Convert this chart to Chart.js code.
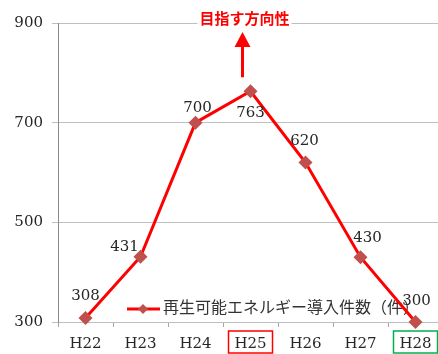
<!DOCTYPE html>
<html lang="ja">
<head>
<meta charset="utf-8">
<script src="https://cdn.jsdelivr.net/npm/chart.js@4"></script>
<style>
  html, body { margin: 0; padding: 0; background: #fff; overflow: hidden; }
  #wrap { position: relative; width: 450px; height: 354px; }
</style>
</head>
<body>
<div id="wrap"><canvas id="renewChart"></canvas></div>
<script>
// 年度と導入件数
const years = ['H22', 'H23', 'H24', 'H25', 'H26', 'H27', 'H28'];
const installs = [308, 431, 700, 763, 620, 430, 300];
const yTicks = [300, 500, 700, 900];
const seriesName = '再生可能エネルギー導入件数（件）';
const goalText = '目指す方向性';
const redBoxYear = 'H25';
const greenBoxYear = 'H28';

const SERIF = '"DejaVu Serif", "Liberation Serif", serif';
const JP = '"Noto Sans CJK JP", sans-serif';

// 値ラベルの位置ずらし (点からのずれ)
const labelShift = [[0, -22], [-16, -10], [2, -15], [0, 22], [-1, -21], [7, -19], [1, -21]];

const valueLabels = {
    id: 'valueLabels',
    afterDatasetsDraw(chart) {
        const ctx = chart.ctx;
        const pts = chart.getDatasetMeta(0).data;
        ctx.save();
        ctx.font = '15px ' + SERIF;
        ctx.fillStyle = '#262626';
        ctx.textAlign = 'center';
        ctx.textBaseline = 'middle';
        pts.forEach((p, i) => {
            const s = labelShift[i] || [0, -20];
            ctx.fillText(String(installs[i]), p.x + s[0], p.y + s[1]);
        });
        ctx.restore();
    }
};

// グラフ内の凡例 (線の下に描く)
const innerLegend = {
    id: 'innerLegend',
    beforeDatasetsDraw(chart) {
        const ctx = chart.ctx;
        const a = chart.chartArea;
        const y = a.bottom - 13;
        const x0 = a.left + 69;
        ctx.save();
        ctx.strokeStyle = '#ff0000';
        ctx.lineWidth = 3;
        ctx.beginPath();
        ctx.moveTo(x0, y);
        ctx.lineTo(x0 + 33, y);
        ctx.stroke();
        ctx.fillStyle = '#c0504d';
        ctx.beginPath();
        ctx.moveTo(x0 + 16, y - 5);
        ctx.lineTo(x0 + 21, y);
        ctx.lineTo(x0 + 16, y + 5);
        ctx.lineTo(x0 + 11, y);
        ctx.closePath();
        ctx.fill();
        ctx.font = '16px ' + JP;
        ctx.fillStyle = '#333';
        ctx.textAlign = 'left';
        ctx.textBaseline = 'middle';
        ctx.fillText(seriesName, x0 + 36, y - 2);
        ctx.restore();
    }
};

// 目指す方向性の矢印と年度の枠
const goalMarks = {
    id: 'goalMarks',
    afterDraw(chart) {
        const ctx = chart.ctx;
        const a = chart.chartArea;
        const xs = chart.scales.x;
        const peak = chart.getDatasetMeta(0).data[years.indexOf(redBoxYear)];
        const ax = peak.x - 8;
        ctx.save();
        // 矢印
        ctx.strokeStyle = '#ff0000';
        ctx.fillStyle = '#ff0000';
        ctx.lineWidth = 3;
        ctx.beginPath();
        ctx.moveTo(ax, peak.y - 14);
        ctx.lineTo(ax, a.top + 22);
        ctx.stroke();
        ctx.beginPath();
        ctx.moveTo(ax, a.top + 9);
        ctx.lineTo(ax + 8, a.top + 24);
        ctx.lineTo(ax - 8, a.top + 24);
        ctx.closePath();
        ctx.fill();
        // 見出し
        ctx.font = 'bold 15px ' + JP;
        ctx.textAlign = 'center';
        ctx.textBaseline = 'middle';
        const w = ctx.measureText(goalText).width;
        ctx.fillStyle = '#fff';
        ctx.fillRect(ax + 2 - w / 2 - 2, a.top - 13, w + 4, 22);
        ctx.fillStyle = '#ff0000';
        ctx.fillText(goalText, ax + 2, a.top - 5);
        // 年度の枠
        ctx.lineWidth = 1.5;
        [[redBoxYear, '#ff0000'], [greenBoxYear, '#00b050']].forEach(([yr, col]) => {
            const cx = xs.getPixelForValue(years.indexOf(yr));
            ctx.strokeStyle = col;
            ctx.strokeRect(cx - 22, a.bottom + 9, 44, 22);
        });
        ctx.restore();
    }
};

new Chart(document.getElementById('renewChart'), {
    type: 'line',
    data: {
        labels: years,
        datasets: [{
            label: seriesName,
            data: installs,
            borderColor: '#ff0000',
            borderWidth: 3,
            tension: 0,
            pointStyle: 'rectRot',
            pointRadius: 7,
            pointBackgroundColor: '#c0504d',
            pointBorderColor: '#c0504d',
            pointBorderWidth: 0,
            clip: false
        }]
    },
    options: {
        responsive: true,
        maintainAspectRatio: false,
        animation: false,
        layout: { padding: { top: 23, right: 0, left: 0, bottom: 0 } },
        plugins: {
            legend: { display: false },
            tooltip: { enabled: false }
        },
        scales: {
            x: {
                offset: true,
                grid: {
                    offset: true,
                    drawOnChartArea: false,
                    tickLength: 5,
                    color: '#a6a6a6'
                },
                border: { color: '#bfbfbf' },
                ticks: {
                    font: { family: SERIF, size: 15 },
                    color: '#262626',
                    padding: 8,
                    maxRotation: 0
                },
                afterFit(scale) { scale.height = 32; }
            },
            y: {
                min: 300,
                max: 900,
                afterBuildTicks(scale) { scale.ticks = yTicks.map(v => ({ value: v })); },
                grid: { color: '#bfbfbf', tickLength: 6 },
                border: { color: '#8c8c8c' },
                ticks: {
                    font: { family: SERIF, size: 15 },
                    color: '#262626',
                    padding: 9
                },
                afterFit(scale) { scale.width = 58; }
            }
        }
    },
    plugins: [innerLegend, valueLabels, goalMarks]
});
</script>
</body>
</html>
